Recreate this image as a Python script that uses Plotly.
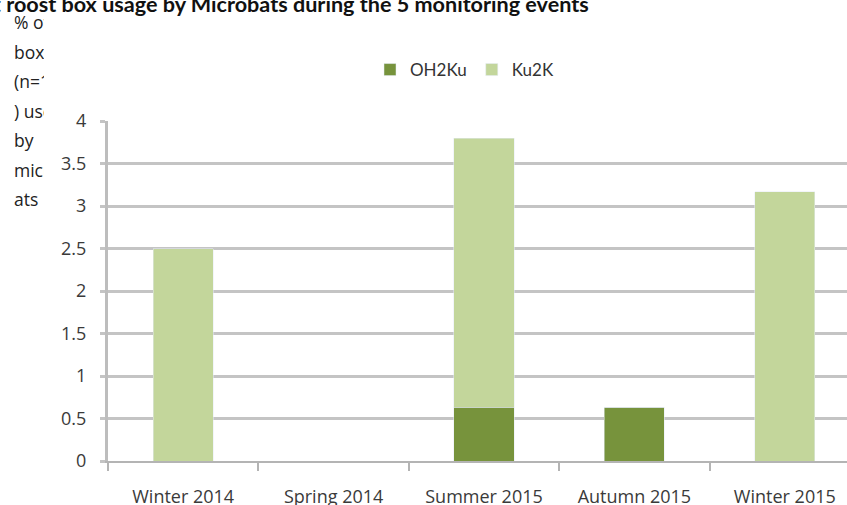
import plotly.graph_objects as go

categories = ["Winter 2014", "Spring 2014", "Summer 2015", "Autumn 2015", "Winter 2015"]
oh2ku = [0, 0, 0.63, 0.63, 0]
ku2k = [2.5, 0, 3.17, 0, 3.17]
y_ticks = [0, 0.5, 1, 1.5, 2, 2.5, 3, 3.5, 4]
y_tick_text = ["0", "0.5", "1", "1.5", "2", "2.5", "3", "3.5", "4"]
title_text = "Bat roost box usage by Microbats during the 5 monitoring events"
ytitle_lines = ["% of", "box", "(n=158", ") used", "by", "microb", "ats"]

W, H = 847, 505
L, R, T, B = 108, 0, 121, 44
PW, PH = W - L - R, H - T - B

def px_x(px):
    return (px - L) / PW

def px_y(py):
    return (H - B - py) / PH

fig = go.Figure()
fig.add_trace(go.Bar(x=categories, y=oh2ku, name="OH2Ku", marker_color="#77933C"))
fig.add_trace(go.Bar(x=categories, y=ku2k, name="Ku2K", marker_color="#C3D69B"))

tick_font = dict(family="Open Sans, sans-serif", size=18, color="#3a3a3a")

annotations = [
    dict(text="<b>" + title_text + "</b>", xref="paper", yref="paper",
         x=px_x(591), y=px_y(4), xanchor="right", yanchor="middle",
         showarrow=False, font=dict(family="Lato, sans-serif", size=21.6, color="#111111"))
]
for i, line in enumerate(ytitle_lines):
    annotations.append(dict(
        text=line, xref="paper", yref="paper",
        x=px_x(12), y=px_y(22 + 29.5 * i), xanchor="left", yanchor="middle",
        width=30, align="left", showarrow=False,
        font=dict(family="Open Sans, sans-serif", size=17.5, color="#222222")))

fig.update_layout(
    width=W, height=H,
    margin=dict(l=L, r=R, t=T, b=B, pad=0, autoexpand=False),
    paper_bgcolor="white", plot_bgcolor="white",
    barmode="stack", bargap=0.6,
    showlegend=True,
    legend=dict(orientation="h", x=px_x(370), y=px_y(52), xanchor="left", yanchor="top",
                traceorder="normal", itemwidth=30,
                font=dict(family="Lato, sans-serif", size=17, color="#333333")),
    annotations=annotations,
)
fig.update_xaxes(
    type="category", range=[-0.5, -0.5 + PW / 150.4], automargin=False,
    showline=True, linecolor="#b4b4b4", linewidth=2,
    ticks="outside", tickson="boundaries", ticklen=8, tickcolor="#b4b4b4", tickwidth=2,
    showgrid=False, tickfont=tick_font, ticklabelstandoff=18,
)
fig.update_yaxes(
    range=[0, 4], tickvals=y_ticks, ticktext=y_tick_text, automargin=False,
    showline=True, linecolor="#bdbdbd", linewidth=3,
    ticks="outside", ticklen=5, tickcolor="#c4c4c4", tickwidth=2.5,
    showgrid=True, gridcolor="#c4c4c4", gridwidth=2.5, zeroline=False,
    tickfont=tick_font, ticklabelstandoff=10,
)

fig.write_html("out.html", config={"displayModeBar": False},
               post_script="document.body.style.margin='0px';")
